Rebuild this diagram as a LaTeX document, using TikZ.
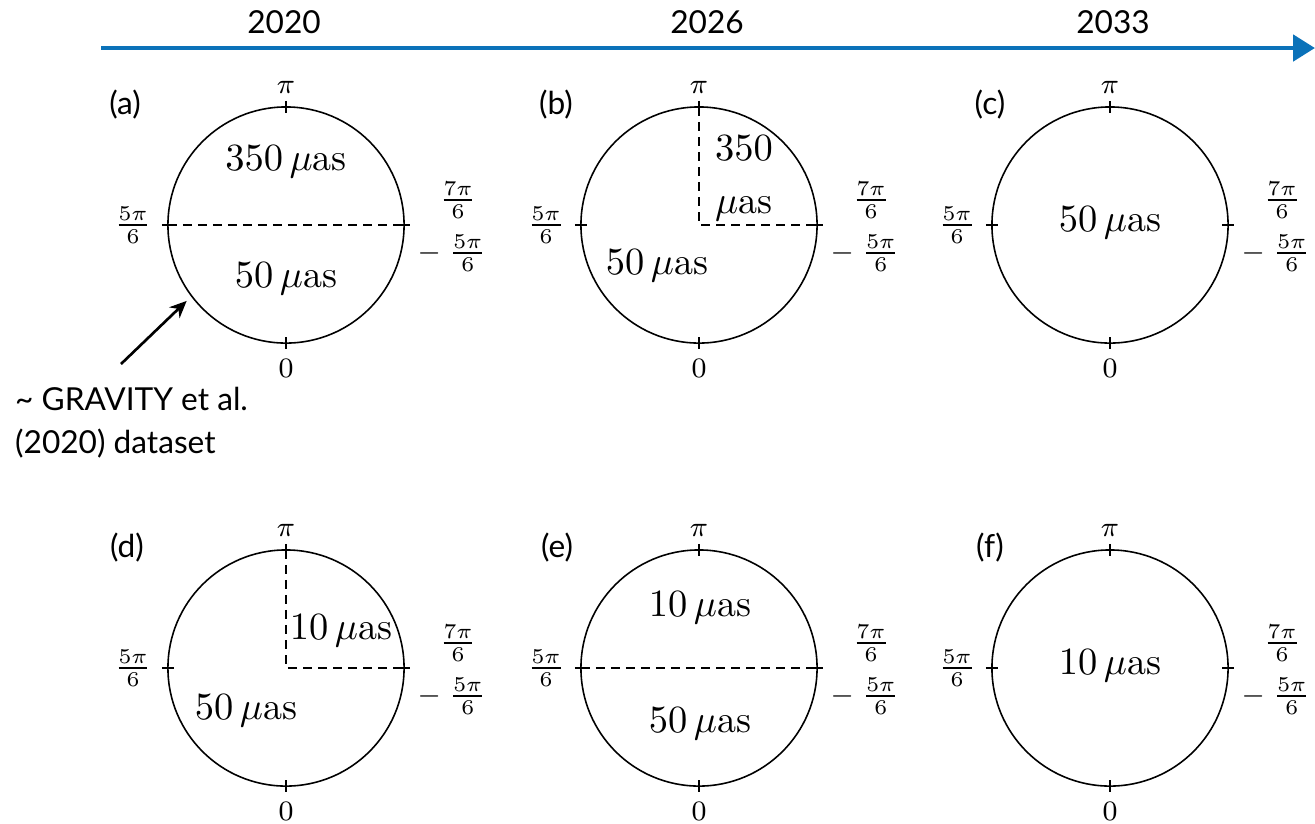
\documentclass[tikz,border=0pt]{standalone}
\usepackage{fontspec}
\usepackage{amsmath}
\newfontfamily\labelfont{Lato}
\usetikzlibrary{positioning,arrows.meta,calc}
\definecolor{timeblue}{HTML}{0B72B9}

\begin{document}
\begin{tikzpicture}[
    x=0.01cm, y=-0.01cm,
    ring/.style={circle, draw=black, line width=0.45pt, minimum size=2.36cm, inner sep=0pt, outer sep=0pt},
    tickStyle/.style={line width=0.45pt},
    dashStyle/.style={line width=0.45pt, dash pattern=on 0.09cm off 0.06cm},
    axisLabel/.style={font=\footnotesize, inner sep=0pt},
    valueLabel/.style={font=\fontsize{10.8}{13}\selectfont, inner sep=1pt},
    panelLabel/.style={font=\labelfont\fontsize{9}{11}\selectfont, inner sep=1pt},
    timeline/.style={draw=timeblue, line width=1.4pt, -{Triangle[length=0.22cm, width=0.26cm]}},
    pointer/.style={line width=0.75pt, -{Stealth[length=0.17cm, width=0.15cm]}}
]
    \useasboundingbox (0,0) rectangle (1315,823);

    % Timeline
    \coordinate (tstart) at (101,48);
    \coordinate (tend) at (1315,48);
    \draw[timeline] (tstart) -- (tend);
    \node[panelLabel] (y2020) at (284,22) {2020};
    \node[panelLabel] (y2026) at (707,22) {2026};
    \node[panelLabel] (y2033) at (1113,22) {2033};

    % Circles, ticks and angle labels
    \foreach \n/\cx/\cy/\lx in {a/286/225/125, b/699/225/556, c/1110/225/990,
                                d/286/668/127, e/699/668/557, f/1110/668/990} {
        \node[ring] (c\n) at (\cx,\cy) {};
        \draw[tickStyle] ($(c\n.north)+(0,-6)$) -- ($(c\n.north)+(0,6)$);
        \draw[tickStyle] ($(c\n.south)+(0,-6)$) -- ($(c\n.south)+(0,6)$);
        \draw[tickStyle] ($(c\n.west)+(-6,0)$) -- ($(c\n.west)+(6,0)$);
        \draw[tickStyle] ($(c\n.east)+(-6,0)$) -- ($(c\n.east)+(6,0)$);
        \node[axisLabel] (c\n-pi) at (\cx,\cy-138) {$\pi$};
        \node[axisLabel] (c\n-zero) at (\cx,\cy+143) {$0$};
        \node[axisLabel] (c\n-left) at (\cx-153,\cy) {$\frac{5\pi}{6}$};
        \node[axisLabel] (c\n-upper) at (\cx+172,\cy-25) {$\frac{7\pi}{6}$};
        \node[axisLabel] (c\n-lower) at (\cx+166,\cy+28) {$-\;\frac{5\pi}{6}$};
        \node[panelLabel] (p\n) at (\lx,\cy-120) {(\n)};
    }

    % Panel (a)
    \draw[dashStyle] (ca.west) -- (ca.east);
    \node[valueLabel] (a-upper) at (286,162) {$350\,\mu\mathrm{as}$};
    \node[valueLabel] (a-lower) at (286,279) {$50\,\mu\mathrm{as}$};

    % Panel (b)
    \draw[dashStyle] (cb.north) -- (cb.center) -- (cb.east);
    \node[valueLabel, align=left, anchor=west, font=\fontsize{10.8}{15}\selectfont] (b-upper) at (711,178) {$350$\\$\mu\mathrm{as}$};
    \node[valueLabel] (b-lower) at (657,266) {$50\,\mu\mathrm{as}$};

    % Panel (c)
    \node[valueLabel] (c-mid) at (1110,223) {$50\,\mu\mathrm{as}$};

    % Panel (d)
    \draw[dashStyle] (cd.north) -- (cd.center) -- (cd.east);
    \node[valueLabel] (d-upper) at (341,631) {$10\,\mu\mathrm{as}$};
    \node[valueLabel] (d-lower) at (246,711) {$50\,\mu\mathrm{as}$};

    % Panel (e)
    \draw[dashStyle] (ce.west) -- (ce.east);
    \node[valueLabel] (e-upper) at (700,608) {$10\,\mu\mathrm{as}$};
    \node[valueLabel] (e-lower) at (700,724) {$50\,\mu\mathrm{as}$};

    % Panel (f)
    \node[valueLabel] (f-mid) at (1110,666) {$10\,\mu\mathrm{as}$};

    % Dataset annotation
    \node[panelLabel, align=left, anchor=west, font=\labelfont\fontsize{9}{12.2}\selectfont] (gravity) at (11,423) {\textasciitilde{} GRAVITY et al.\\(2020) dataset};
    \coordinate (gtail) at (121,364);
    \draw[pointer, shorten >=0.07cm] (gtail) -- (ca.217);
\end{tikzpicture}
\end{document}
